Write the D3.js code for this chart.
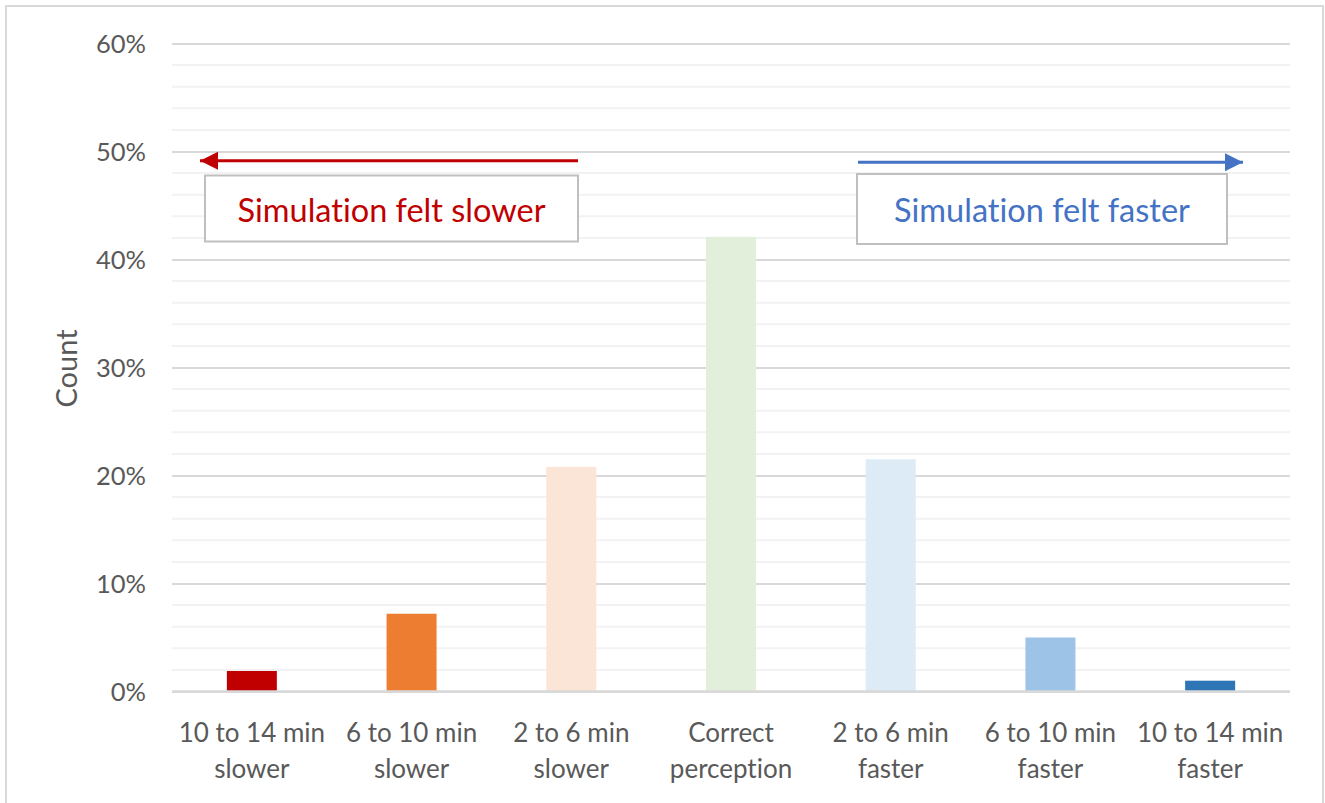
<!DOCTYPE html>
<html>
<head>
<meta charset="utf-8">
<script src="https://cdn.jsdelivr.net/npm/d3@7"></script>
<style>
  html, body { margin: 0; padding: 0; background: #fff; }
  svg { display: block; }
  text { font-family: Lato, "Open Sans", sans-serif; font-variant-ligatures: none; }
</style>
</head>
<body>
<svg id="chart" width="1325" height="803"></svg>
<script>
// Perceived duration of the simulation, share of respondents per category
const categories = [
  ["10 to 14 min", "slower"],
  ["6 to 10 min", "slower"],
  ["2 to 6 min", "slower"],
  ["Correct", "perception"],
  ["2 to 6 min", "faster"],
  ["6 to 10 min", "faster"],
  ["10 to 14 min", "faster"]
];
const shares = [0.019, 0.072, 0.208, 0.421, 0.215, 0.050, 0.010];
const barColors = ["#C00000", "#ED7D31", "#FBE5D6", "#E2EFDA", "#DDEBF7", "#9DC3E6", "#2E75B6"];
const majorTicks = [0, 0.1, 0.2, 0.3, 0.4, 0.5, 0.6];
const minorTicks = d3.range(0, 0.6001, 0.02);
const yTitle = "Count";
const slowerLabel = "Simulation felt slower";
const fasterLabel = "Simulation felt faster";

const svg = d3.select("#chart");
const W = 1325, H = 803;
const plot = { left: 172, right: 1290, top: 43.5, bottom: 691.5 };

// outer chart frame
svg.append("rect")
  .attr("x", 6).attr("y", 6)
  .attr("width", W - 8).attr("height", H)
  .attr("fill", "#fff").attr("stroke", "#D9D9D9").attr("stroke-width", 2);

const keys = categories.map((c, i) => i);
const x = d3.scaleBand()
  .domain(keys)
  .range([plot.left, plot.right])
  .paddingInner(0.687)
  .paddingOuter(0.3435);

const y = d3.scaleLinear()
  .domain([0, 0.6])
  .range([plot.bottom, plot.top]);

// minor gridlines
svg.append("g")
  .selectAll("line")
  .data(minorTicks.filter(t => !majorTicks.some(m => Math.abs(m - t) < 1e-9)))
  .join("line")
  .attr("x1", plot.left).attr("x2", plot.right)
  .attr("y1", d => y(d)).attr("y2", d => y(d))
  .attr("stroke", "#F2F2F2").attr("stroke-width", 2);

// major gridlines + tick labels via axis
const yAxis = d3.axisLeft(y)
  .tickValues(majorTicks)
  .tickFormat(d3.format(".0%"))
  .tickSize(-(plot.right - plot.left))
  .tickPadding(26);

const gy = svg.append("g")
  .attr("transform", `translate(${plot.left},0)`)
  .call(yAxis);
gy.select(".domain").remove();
gy.selectAll(".tick line")
  .attr("stroke", "#D9D9D9").attr("stroke-width", 2);
gy.selectAll(".tick text")
  .attr("fill", "#595959")
  .attr("font-size", 25.5)
  .attr("dy", "0.36em");

// bars
svg.append("g")
  .selectAll("rect")
  .data(shares)
  .join("rect")
  .attr("x", (d, i) => x(i))
  .attr("width", x.bandwidth())
  .attr("y", d => y(d))
  .attr("height", d => y(0) - y(d))
  .attr("fill", (d, i) => barColors[i]);

// baseline
svg.append("line")
  .attr("x1", plot.left).attr("x2", plot.right)
  .attr("y1", y(0)).attr("y2", y(0))
  .attr("stroke", "#D9D9D9").attr("stroke-width", 2.5);

// category labels (two lines)
const xAxis = d3.axisBottom(x).tickSize(0).tickFormat(() => "");
const gx = svg.append("g")
  .attr("transform", `translate(0,${plot.bottom})`)
  .call(xAxis);
gx.select(".domain").remove();
gx.selectAll(".tick").each(function (i) {
  const t = d3.select(this).select("text")
    .attr("fill", "#595959")
    .attr("font-size", 26)
    .attr("text-anchor", "middle")
    .attr("y", 0).attr("dy", null);
  t.selectAll("tspan")
    .data(categories[i])
    .join("tspan")
    .attr("x", 0)
    .attr("y", (d, k) => 50 + k * 36)
    .text(d => d);
});

// y axis title
svg.append("text")
  .attr("transform", `translate(77,${(plot.top + plot.bottom) / 2 + 1}) rotate(-90)`)
  .attr("text-anchor", "middle")
  .attr("fill", "#595959")
  .attr("font-size", 29)
  .text(yTitle);

// direction annotations
const defs = svg.append("defs");
function arrowHead(id, color) {
  defs.append("marker")
    .attr("id", id)
    .attr("viewBox", "0 0 10 10")
    .attr("refX", 10).attr("refY", 5)
    .attr("markerUnits", "userSpaceOnUse")
    .attr("markerWidth", 18).attr("markerHeight", 19)
    .attr("orient", "auto")
    .append("path")
    .attr("d", "M0,0 L10,5 L0,10 Z")
    .attr("fill", color);
}
arrowHead("headRed", "#C00000");
arrowHead("headBlue", "#4472C4");

const notes = [
  { label: slowerLabel, color: "#C00000", marker: "headRed",
    from: 578, to: 200, ay: 160.7, box: [205, 175.5, 373, 66] },
  { label: fasterLabel, color: "#4472C4", marker: "headBlue",
    from: 858, to: 1243, ay: 162.3, box: [857, 174, 370, 70] }
];

const gn = svg.append("g").selectAll("g").data(notes).join("g");
gn.append("line")
  .attr("x1", d => d.from).attr("x2", d => d.to)
  .attr("y1", d => d.ay).attr("y2", d => d.ay)
  .attr("stroke", d => d.color).attr("stroke-width", 3)
  .attr("marker-end", d => `url(#${d.marker})`);
gn.append("rect")
  .attr("x", d => d.box[0]).attr("y", d => d.box[1])
  .attr("width", d => d.box[2]).attr("height", d => d.box[3])
  .attr("fill", "#fff").attr("stroke", "#BFBFBF").attr("stroke-width", 2);
gn.append("text")
  .attr("x", d => d.box[0] + d.box[2] / 2)
  .attr("y", 222)
  .attr("text-anchor", "middle")
  .attr("fill", d => d.color)
  .attr("font-size", 32.5)
  .text(d => d.label);
</script>
</body>
</html>
